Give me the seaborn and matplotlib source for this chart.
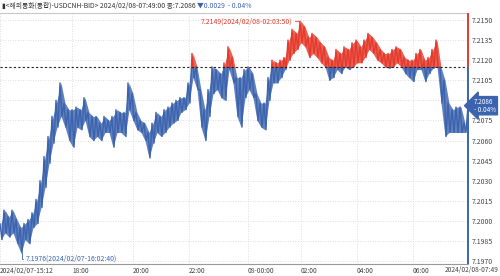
import numpy as np
import pandas as pd
import matplotlib
matplotlib.use("Agg")
import matplotlib.pyplot as plt
import seaborn as sns
from matplotlib.patches import Rectangle

# ---- data (per time bucket high / low) ----
hi = [7.1998, 7.2008, 7.2003, 7.2008, 7.2001, 7.1995, 7.1998, 7.2001, 7.2006, 7.2016,
      7.2030, 7.2048, 7.2063, 7.2078, 7.2090, 7.2103, 7.2088, 7.2083, 7.2083, 7.2085,
      7.2083, 7.2092, 7.2081, 7.2078, 7.2078, 7.2073, 7.2078, 7.2075, 7.2078, 7.2083,
      7.2081, 7.2081, 7.2103, 7.2095, 7.2081, 7.2075, 7.2073, 7.2066, 7.2073, 7.2081,
      7.2078, 7.2083, 7.2085, 7.2088, 7.2090, 7.2092, 7.2092, 7.2103, 7.2125, 7.2115,
      7.2098, 7.2083, 7.2098, 7.2115, 7.2113, 7.2110, 7.2118, 7.2130, 7.2122, 7.2107,
      7.2107, 7.2113, 7.2115, 7.2110, 7.2095, 7.2088, 7.2088, 7.2107, 7.2120, 7.2118,
      7.2120, 7.2122, 7.2135, 7.2143, 7.2140, 7.2149, 7.2145, 7.2137, 7.2140, 7.2137,
      7.2133, 7.2130, 7.2122, 7.2120, 7.2128, 7.2125, 7.2130, 7.2128, 7.2133, 7.2135,
      7.2130, 7.2135, 7.2140, 7.2137, 7.2133, 7.2128, 7.2125, 7.2125, 7.2128, 7.2130,
      7.2128, 7.2122, 7.2120, 7.2120, 7.2125, 7.2128, 7.2120, 7.2122, 7.2128, 7.2135,
      7.2115, 7.2105, 7.2088, 7.2083, 7.2085, 7.2085, 7.2073]
lo = [7.1986, 7.1991, 7.1988, 7.1991, 7.1983, 7.1976, 7.1986, 7.1983, 7.1995, 7.1998,
      7.2010, 7.2025, 7.2043, 7.2058, 7.2070, 7.2078, 7.2070, 7.2060, 7.2055, 7.2070,
      7.2068, 7.2075, 7.2063, 7.2060, 7.2063, 7.2060, 7.2066, 7.2066, 7.2055, 7.2066,
      7.2066, 7.2063, 7.2083, 7.2075, 7.2068, 7.2066, 7.2060, 7.2047, 7.2058, 7.2066,
      7.2063, 7.2066, 7.2070, 7.2073, 7.2075, 7.2081, 7.2083, 7.2088, 7.2107, 7.2098,
      7.2070, 7.2060, 7.2078, 7.2095, 7.2098, 7.2092, 7.2090, 7.2113, 7.2103, 7.2078,
      7.2070, 7.2092, 7.2098, 7.2092, 7.2075, 7.2070, 7.2068, 7.2090, 7.2103, 7.2103,
      7.2107, 7.2113, 7.2120, 7.2125, 7.2128, 7.2133, 7.2130, 7.2122, 7.2125, 7.2122,
      7.2118, 7.2115, 7.2105, 7.2107, 7.2113, 7.2110, 7.2115, 7.2113, 7.2115, 7.2118,
      7.2118, 7.2122, 7.2128, 7.2125, 7.2120, 7.2118, 7.2115, 7.2114, 7.2115, 7.2118,
      7.2115, 7.2110, 7.2107, 7.2104, 7.2113, 7.2113, 7.2104, 7.2110, 7.2114, 7.2115,
      7.2088, 7.2063, 7.2066, 7.2066, 7.2066, 7.2066, 7.2066]
last_price = 7.2086
prev_close = 7.2115
max_price, max_label = 7.2149, "7.2149(2024/02/08-02:03:50)"
min_price, min_label = 7.1976, "7.1976(2024/02/07-16:02:40)"
change_text = "▼0.0029  - 0.04%"
box_pct = "- 0.04%"
title_main = "<해외통화(통합)-USDCNH-BID> 2024/02/08-07:49:00 종:7.2086 "

ytick_values = [7.1970, 7.1985, 7.2000, 7.2015, 7.2030, 7.2045, 7.2060,
                7.2075, 7.2090, 7.2105, 7.2120, 7.2135, 7.2150]
xtick_pos = [0, 36, 66.5, 94.5, 124, 150.5, 178.5, 206.5]
xtick_labels = ["2024/02/07-15:12", "18:00", "20:00", "22:00", "08-00:00",
                "02:00", "04:00", "06:00"]
end_label = "2024/02/08-07:49"

# ---- build series (zig-zag between bucket high and low) ----
prices = list(np.column_stack([hi, lo]).ravel()) + [last_price]
df = pd.DataFrame({"i": np.arange(len(prices)), "p": prices})
n_last = len(prices) - 1
band = pd.DataFrame({"i": np.arange(len(hi)) * 2 + 0.5, "hi": hi, "lo": lo})

BLUE = "#3b63ae"
RED = "#e5392c"
YLIM = (7.19678, 7.21552)

sns.set_style("white")
plt.rcParams["font.family"] = ["Noto Sans CJK KR", "DejaVu Sans"]
plt.rcParams["axes.unicode_minus"] = False

fig = plt.figure(figsize=(5, 2.76), dpi=100)
ax = fig.add_axes([0, 1 - 264 / 276, 468 / 500, (264 - 13) / 276])

clip_below = Rectangle((-10, YLIM[0] - 1), n_last + 20, prev_close - YLIM[0] + 1,
                       transform=ax.transData)
clip_above = Rectangle((-10, prev_close), n_last + 20, YLIM[1] - prev_close,
                       transform=ax.transData)

for color, clip in [(BLUE, clip_below), (RED, clip_above)]:
    fb = ax.fill_between(band["i"], band["hi"], band["lo"], color=color,
                         alpha=0.8, lw=0)
    fb.set_clip_path(clip)
    sns.lineplot(data=df, x="i", y="p", ax=ax, color=color, lw=1.0,
                 estimator=None, sort=False)
    ax.lines[-1].set_clip_path(clip)

ax.set_xlim(0, n_last)
ax.set_ylim(*YLIM)

ax.axhline(prev_close, color="#222222", ls=(0, (2, 2)), lw=0.8, zorder=3)

# axes
ax.set_xlabel("")
ax.set_ylabel("")
ax.yaxis.tick_right()
ax.set_yticks(ytick_values)
ax.set_yticklabels(["" if abs(v - last_price) < 0.001 else f"{v:.4f}" for v in ytick_values])
ax.set_xticks(xtick_pos)
ax.set_xticklabels(xtick_labels)
for lbl in ax.get_xticklabels():
    lbl.set_ha("left")
ax.tick_params(axis="y", length=0, pad=3, labelsize=5, labelcolor="#444444")
ax.tick_params(axis="x", length=2.5, width=0.6, color="#888888", pad=0,
               labelsize=4.8, labelcolor="#444444")
ax.grid(True, color="#d4d4d4", ls=(0, (1, 2)), lw=0.6)
ax.set_axisbelow(True)
for s in ["left", "right"]:
    ax.spines[s].set_visible(False)
ax.spines["top"].set_color("#c8c8c8")
ax.spines["top"].set_linewidth(0.8)
ax.spines["bottom"].set_color("#999999")
ax.spines["bottom"].set_linewidth(0.8)

ax.vlines(n_last, prev_close, YLIM[1], color=RED, lw=1.4, clip_on=False, zorder=4)
ax.vlines(n_last, YLIM[0], prev_close, color=BLUE, lw=1.4, clip_on=False, zorder=4)

fig.text(0.998, 1 - 270 / 276, end_label, ha="right", va="center",
         fontsize=4.8, color="#444444")

# current price box
ax.annotate(f"{last_price:.4f}\n{box_pct}", xy=(n_last, last_price), xytext=(6, 0),
            textcoords="offset pixels", ha="left", va="center", fontsize=4.6,
            color="white", linespacing=0.95, annotation_clip=False, zorder=6,
            bbox=dict(boxstyle="larrow,pad=0.2", fc=BLUE, ec=BLUE))

# max / min annotations
ax.annotate(max_label, xy=(150, max_price), xytext=(-8, 0), textcoords="offset pixels",
            ha="right", va="center", fontsize=5, color=RED,
            arrowprops=dict(arrowstyle="-", color=RED, lw=0.6, shrinkA=0, shrinkB=0))
ax.annotate(min_label, xy=(11, min_price), xytext=(4, -6), textcoords="offset pixels",
            ha="left", va="center", fontsize=5, color=BLUE, annotation_clip=False,
            arrowprops=dict(arrowstyle="-", color=BLUE, lw=0.6, shrinkA=0, shrinkB=0,
                            connectionstyle="angle,angleA=0,angleB=90,rad=0"))

# title
t1 = fig.text(0.004, 1 - 1.5 / 276, "▮" + title_main, ha="left", va="top",
              fontsize=4.9, color="#333333")
ax.annotate(change_text, xy=(1, 0), xycoords=t1, ha="left", va="bottom",
            fontsize=4.9, color=BLUE, annotation_clip=False)

fig.savefig("out.png", dpi=100)
